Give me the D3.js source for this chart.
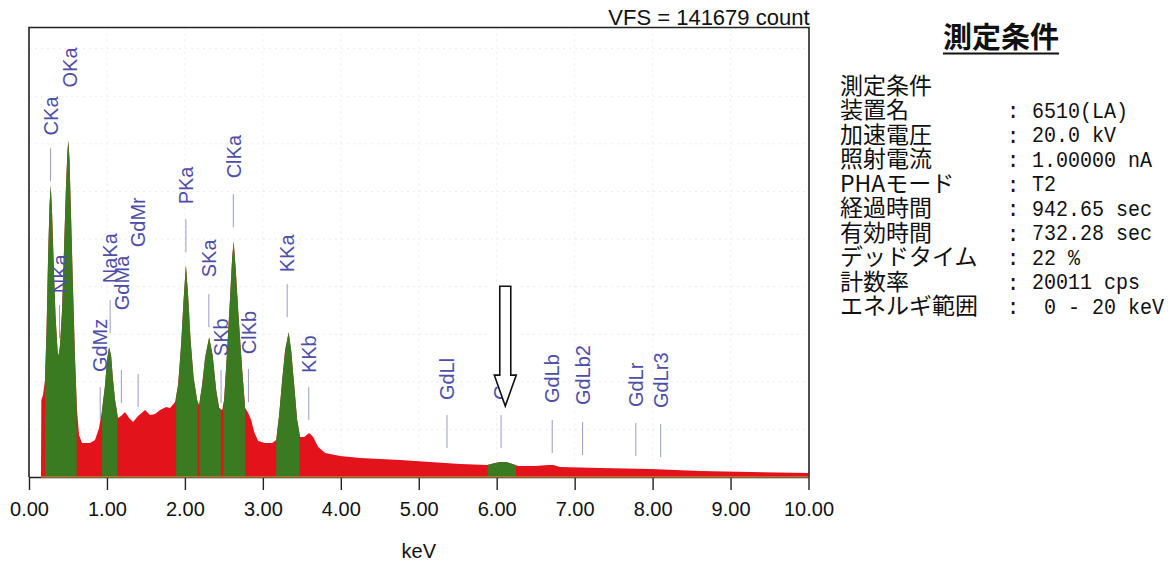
<!DOCTYPE html>
<html>
<head>
<meta charset="utf-8">
<script src="https://cdn.jsdelivr.net/npm/d3@7"></script>
<style>
  body { margin: 0; background: #fff; }
  svg { display: block; }
</style>
</head>
<body>
<svg id="chart" width="1175" height="567"></svg>
<script>
// EDS spectrum: energy (keV) and counts per channel
const energyKeV = [
  0.154, 0.158, 0.180, 0.205, 0.225, 0.244, 0.263, 0.279, 0.295, 0.315,
  0.340, 0.366, 0.379, 0.398, 0.424, 0.449, 0.475, 0.494, 0.505, 0.520,
  0.539, 0.565, 0.591, 0.616, 0.642, 0.680, 0.783, 0.847, 0.899, 0.937,
  0.976, 1.001, 1.027, 1.053, 1.078, 1.104, 1.142, 1.181, 1.232, 1.284,
  1.335, 1.399, 1.489, 1.553, 1.617, 1.682, 1.759, 1.810, 1.874, 1.913,
  1.951, 1.983, 2.013, 2.041, 2.073, 2.112, 2.157, 2.182, 2.221, 2.260,
  2.311, 2.356, 2.401, 2.439, 2.478, 2.503, 2.542, 2.581, 2.606, 2.625,
  2.651, 2.690, 2.735, 2.773, 2.812, 2.850, 2.889, 2.940, 3.030, 3.119,
  3.171, 3.209, 3.248, 3.286, 3.331, 3.363, 3.402, 3.440, 3.479, 3.530,
  3.594, 3.646, 3.710, 3.800, 3.992, 4.249, 4.506, 4.763, 5.148, 5.533,
  5.879, 5.982, 6.046, 6.123, 6.200, 6.277, 6.496, 6.662, 6.727, 6.816,
  7.330, 7.972, 8.614, 9.255, 10.000
];
const counts = [
  0, 24243, 25817, 30540, 46281, 68320, 85636, 91933, 84062, 68320,
  51004, 39985, 38096, 41559, 52578, 71469, 91933, 102953, 106101, 99804,
  82488, 58875, 36836, 21094, 13223, 10705, 10705, 11649, 15427, 21094,
  28965, 36836, 40929, 38410, 30540, 24243, 18576, 19205, 20465, 18576,
  17316, 19205, 21094, 19520, 19835, 21094, 22039, 21724, 23613, 28965,
  41559, 55727, 66746, 57301, 43133, 31169, 24243, 22668, 28965, 37781,
  44078, 38410, 27391, 21724, 21094, 24243, 39985, 57301, 68950, 74302,
  65800, 50059, 33688, 21724, 20150, 17946, 14168, 11334, 10705, 10705,
  11649, 19520, 30540, 39985, 45652, 39985, 28965, 17946, 12594, 12594,
  13853, 12594, 9445, 7556, 6612, 5982, 5667, 5352, 4723, 4093,
  3778, 4408, 4723, 4723, 4093, 3463, 3463, 3778, 3778, 3148,
  2834, 2519, 1889, 1574, 1259
];
const verticalFullScale = 141679;

// Regions of interest (keV), shaded green
const roiStart = [0.205, 0.937, 1.887, 2.186, 2.494, 3.171, 5.883];
const roiEnd   = [0.612, 1.136, 2.161, 2.461, 2.773, 3.470, 6.248];

// Element line markers: name, energy, marker foot level and label foot level (counts)
const lineNames    = ["CKa", "OKa", "NKa", "GdMz", "NaKa", "GdMa", "GdMr", "PKa", "SKa", "SKb",
                      "ClKa", "ClKb", "KKa", "KKb", "GdLl", "GdLa", "GdLb", "GdLb2", "GdLr", "GdLr3"];
const lineEnergies = [0.277, 0.525, 0.392, 0.914, 1.041, 1.185, 1.400, 2.013, 2.307, 2.464,
                      2.621, 2.815, 3.312, 3.589, 5.362, 6.056, 6.712, 7.102, 7.785, 8.104];
const lineLevels   = [93193, 107675, 43763, 17946, 45337, 23298, 22039, 70839, 47226, 23298,
                      78710, 23613, 50374, 17946, 9130, 9130, 7556, 6926, 6612, 6297];
const labelLevels  = [107675, 122788, 57931, 33058, 61079, 52578, 72413, 85951, 62968, 38096,
                      94137, 38725, 64542, 32743, 24243, 24243, 23298, 22668, 22039, 21724];
const lineShown    = [true, false, true, true, true, true, true, true, true, true,
                      true, true, true, true, true, true, true, true, true, true];

// Arrow pointing at the GdLa window
const arrowEnergy = 6.11;
const arrowTopCount = 60134;
const arrowTipCount = 22354;

const xTicks = [0, 1, 2, 3, 4, 5, 6, 7, 8, 9, 10];
const gridCounts = [15000, 30000, 45000, 60000, 75000, 90000, 105000, 120000, 135000];

// Measurement conditions panel
const panelTitle = "測定条件";
const conditionNames  = ["測定条件", "装置名", "加速電圧", "照射電流", "PHAモード", "経過時間",
                         "有効時間", "デッドタイム", "計数率", "エネルギ範囲"];
const conditionValues = ["", "6510(LA)", "20.0 kV", "1.00000 nA", "T2", "942.65 sec",
                         "732.28 sec", "22 %", "20011 cps", " 0 - 20 keV"];

const svg = d3.select("#chart");
const plotLeft = 29, plotRight = 808.5, plotTop = 27.5, plotBottom = 477;

const x = d3.scaleLinear().domain([0, 10]).range([plotLeft, plotRight]);
const y = d3.scaleLinear().domain([0, verticalFullScale]).range([plotBottom, plotTop]);

const spectrum = energyKeV.map((e, i) => ({ e, c: counts[i] }));

// faint dotted grid
const grid = svg.append("g").attr("stroke", "#ececec").attr("stroke-width", 1)
  .attr("stroke-dasharray", "2,4");
grid.selectAll("line.v").data(xTicks.slice(1, -1)).join("line").attr("class", "v")
  .attr("x1", d => x(d)).attr("x2", d => x(d)).attr("y1", plotTop).attr("y2", plotBottom);
grid.selectAll("line.h").data(gridCounts).join("line").attr("class", "h")
  .attr("x1", plotLeft).attr("x2", plotRight).attr("y1", d => y(d)).attr("y2", d => y(d));

// spectrum area
const area = d3.area()
  .x(d => x(d.e))
  .y0(y(0))
  .y1(d => y(d.c))
  .curve(d3.curveLinear);

svg.append("path").datum(spectrum)
  .attr("d", area).attr("fill", "#e3131b");

const defs = svg.append("defs");
roiStart.forEach((s, i) => {
  defs.append("clipPath").attr("id", "roi" + i)
    .append("rect")
    .attr("x", x(s)).attr("width", x(roiEnd[i]) - x(s))
    .attr("y", plotTop).attr("height", plotBottom - plotTop);
  svg.append("path").datum(spectrum)
    .attr("d", area).attr("fill", "#3a7b22")
    .attr("clip-path", `url(#roi${i})`);
});

// element markers
const markers = svg.append("g");
lineNames.forEach((name, i) => {
  const lx = x(lineEnergies[i]);
  if (lineShown[i]) {
    const y1 = y(lineLevels[i]);
    markers.append("line")
      .attr("x1", lx).attr("x2", lx)
      .attr("y1", y1 - 33).attr("y2", y1)
      .attr("stroke", "#9a9ac4").attr("stroke-width", 1);
  }
  markers.append("text")
    .attr("transform", `translate(${lx},${y(labelLevels[i])}) rotate(-90)`)
    .attr("dy", "0.36em")
    .attr("font-family", "Liberation Sans, Arial, sans-serif")
    .attr("font-size", 20)
    .attr("fill", "#4e4ea8")
    .text(name);
});

// arrow annotation on a white backing
{
  const cx = x(arrowEnergy), ty = y(arrowTopCount), tip = y(arrowTipCount);
  const hw = 11, sw = 5.5, hl = 31;
  svg.append("rect")
    .attr("x", cx - 15).attr("y", ty - 2)
    .attr("width", 30).attr("height", tip - hl - ty + 10)
    .attr("fill", "#fff");
  const pts = [[cx - sw, ty], [cx + sw, ty], [cx + sw, tip - hl], [cx + hw, tip - hl],
               [cx, tip], [cx - hw, tip - hl], [cx - sw, tip - hl]];
  svg.append("path")
    .attr("d", d3.line()(pts) + "Z")
    .attr("fill", "#fff").attr("stroke", "#111").attr("stroke-width", 1.6)
    .attr("stroke-linejoin", "miter");
}

// frame
svg.append("path")
  .attr("d", `M${plotLeft},${plotBottom}V${plotTop}H${plotRight + 0.5}V${plotBottom}`)
  .attr("fill", "none").attr("stroke", "#222").attr("stroke-width", 1.6);

// x axis
const xAxis = d3.axisBottom(x).tickValues(xTicks).tickFormat(d3.format(".2f"))
  .tickSize(13).tickSizeOuter(0).tickPadding(12);
const ax = svg.append("g").attr("transform", `translate(0,${plotBottom})`).call(xAxis);
ax.select(".domain").attr("stroke", "#222").attr("stroke-width", 1.4);
ax.selectAll(".tick line").attr("stroke", "#222").attr("stroke-width", 1.4);
ax.selectAll(".tick text")
  .attr("font-family", "Liberation Sans, Arial, sans-serif")
  .attr("font-size", 20).attr("fill", "#111");

// baseline under the spectrum, over the domain line
svg.append("line")
  .attr("x1", x(energyKeV[0])).attr("x2", x(10))
  .attr("y1", plotBottom).attr("y2", plotBottom)
  .attr("stroke", "#eea040").attr("stroke-width", 1.2);

svg.append("text")
  .attr("x", (plotLeft + plotRight) / 2).attr("y", 558)
  .attr("text-anchor", "middle")
  .attr("font-family", "Liberation Sans, Arial, sans-serif")
  .attr("font-size", 20).attr("fill", "#111")
  .text("keV");

svg.append("text")
  .attr("x", plotRight + 1).attr("y", 25)
  .attr("text-anchor", "end")
  .attr("font-family", "Liberation Sans, Arial, sans-serif")
  .attr("font-size", 22).attr("fill", "#111")
  .text("VFS = " + verticalFullScale + " count");

// measurement conditions panel
const panel = svg.append("g");
const title = panel.append("text")
  .attr("x", 1001).attr("y", 48)
  .attr("text-anchor", "middle")
  .attr("font-family", "Noto Sans CJK JP, sans-serif")
  .attr("font-weight", "bold")
  .attr("font-size", 29).attr("fill", "#111")
  .text(panelTitle);
const tb = title.node().getBBox();
panel.append("line")
  .attr("x1", tb.x).attr("x2", tb.x + tb.width)
  .attr("y1", 53.5).attr("y2", 53.5)
  .attr("stroke", "#111").attr("stroke-width", 2);

const rowY = d3.scaleLinear().domain([0, 1]).range([93.5, 118]);

// names column as one text block
panel.append("text")
  .attr("font-family", "Noto Sans CJK JP, sans-serif")
  .attr("font-size", 23).attr("fill", "#111")
  .selectAll("tspan").data(conditionNames).join("tspan")
  .attr("x", 840).attr("y", (d, i) => rowY(i))
  .text(d => d);

// colon column
panel.append("text")
  .attr("text-anchor", "middle")
  .attr("font-family", "Liberation Mono, monospace")
  .attr("font-size", 22).attr("fill", "#111")
  .selectAll("tspan").data(conditionValues.slice(1)).join("tspan")
  .attr("x", 1013).attr("y", (d, i) => rowY(i + 1))
  .text(":");

// values column, narrow monospaced digits
panel.append("text")
  .attr("transform", "translate(1032,0) scale(0.91,1)")
  .attr("font-family", "Liberation Mono, monospace")
  .attr("font-size", 22).attr("fill", "#111")
  .attr("xml:space", "preserve")
  .style("white-space", "pre")
  .selectAll("tspan").data(conditionValues.slice(1)).join("tspan")
  .attr("x", 0).attr("y", (d, i) => rowY(i + 1))
  .text(d => d);
</script>
</body>
</html>
